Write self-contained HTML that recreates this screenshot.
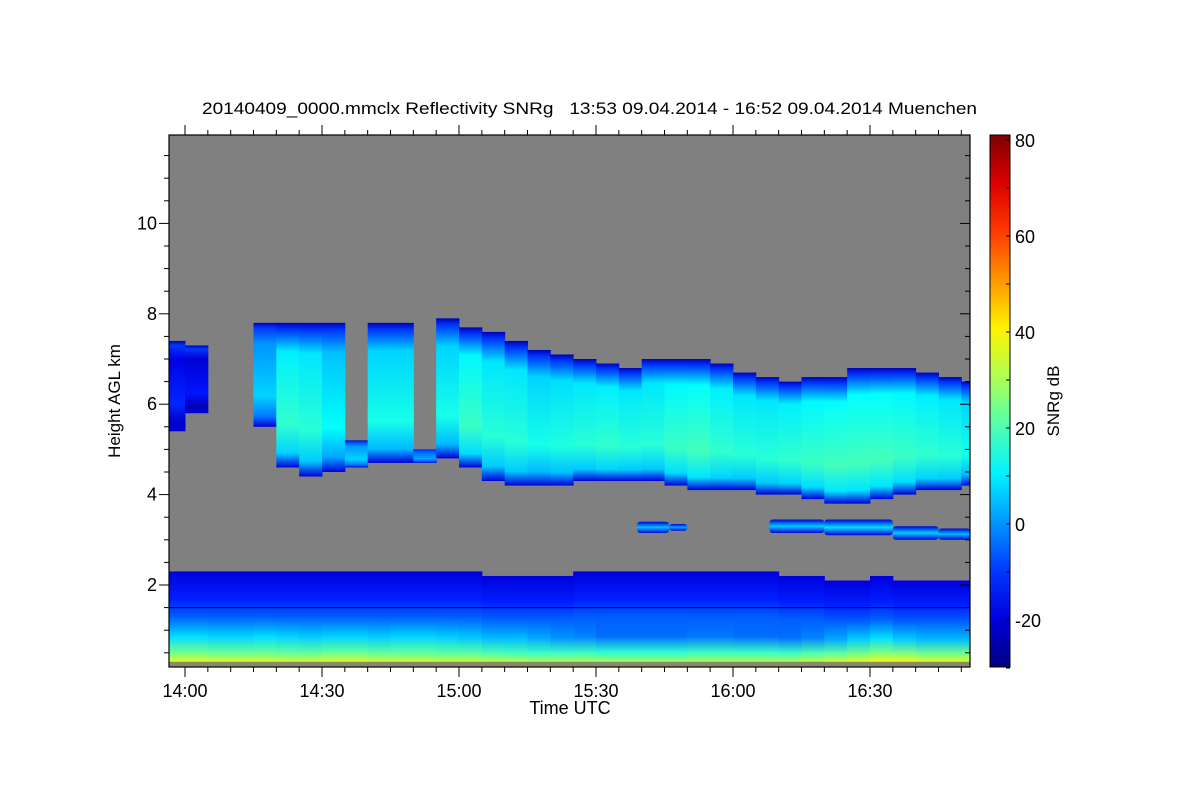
<!DOCTYPE html>
<html><head><meta charset="utf-8"><style>
body{margin:0;background:#fff;}
svg text{font-family:"Liberation Sans",sans-serif;fill:#000;}
</style></head><body>
<svg id="chart" width="1200" height="800" xmlns="http://www.w3.org/2000/svg">
<defs id="defs"></defs>
<text x="202" y="114" font-size="17" textLength="775" lengthAdjust="spacingAndGlyphs" style="white-space:pre">20140409_0000.mmclx Reflectivity SNRg   13:53 09.04.2014 - 16:52 09.04.2014 Muenchen</text>
<clipPath id="pc"><rect x="169" y="135" width="801" height="532"/></clipPath>
<rect x="169" y="135" width="801" height="532" fill="#808080"/>
<g id="marks" clip-path="url(#pc)"></g>
<rect x="169" y="135" width="801" height="532" fill="none" stroke="#000" stroke-width="1.2"/>
<g id="axes"></g>
<text transform="translate(120,401) rotate(-90)" font-size="17" text-anchor="middle">Height AGL km</text>
<text x="570" y="714" font-size="18" text-anchor="middle">Time UTC</text>
<text transform="translate(1059,401) rotate(-90)" font-size="17" text-anchor="middle">SNRg dB</text>
</svg>
<script>
const colStart = ['13:55','14:00','14:05','14:10','14:15','14:20','14:25','14:30','14:35','14:40','14:45','14:50','14:55','15:00','15:05','15:10','15:15','15:20','15:25','15:30','15:35','15:40','15:45','15:50','15:55','16:00','16:05','16:10','16:15','16:20','16:25','16:30','16:35','16:40','16:45','16:50'];
const cloudTop  = [7.4,7.3,0,0,7.8,7.8,7.8,7.8,5.2,7.8,7.8,5.0,7.9,7.7,7.6,7.4,7.2,7.1,7.0,6.9,6.8,7.0,7.0,7.0,6.9,6.7,6.6,6.5,6.6,6.6,6.8,6.8,6.8,6.7,6.6,6.5];
const cloudBase = [5.4,5.8,0,0,5.5,4.6,4.4,4.5,4.6,4.7,4.7,4.7,4.8,4.6,4.3,4.2,4.2,4.2,4.3,4.3,4.3,4.3,4.2,4.1,4.1,4.1,4.0,4.0,3.9,3.8,3.8,3.9,4.0,4.1,4.1,4.2];
const cloudPeak = [-14,-16,0,0,5,15,14,10,5,12,12,0,12,16,14,14,12,13,14,15,14,14,16,17,15,14,14,15,16,17,17,17,16,15,14,12];
const lowTop    = [2.3,2.3,2.3,2.3,2.3,2.3,2.3,2.3,2.3,2.3,2.3,2.3,2.3,2.3,2.2,2.2,2.2,2.2,2.3,2.3,2.3,2.3,2.3,2.3,2.3,2.3,2.3,2.2,2.2,2.1,2.1,2.2,2.1,2.1,2.1,2.1];
const lowMid    = [6,6,5,5,6,5,4,5,5,4,5,5,4,3,2,2,0,-2,-4,-6,-6,-6,-6,-5,-5,-6,-6,-6,-4,0,4,6,4,2,2,2];
const groundSNR = [36,36,35,35,35,34,34,35,35,34,34,34,33,33,32,31,30,30,30,29,29,29,29,30,30,30,30,30,32,34,36,38,38,36,36,36];
const thinLayers = [['15:39',3.15,3.4,5],['15:46',3.2,3.35,2],['16:08',3.15,3.45,6],['16:20',3.1,3.45,8],['16:35',3.0,3.3,6],['16:45',3.0,3.25,4]];
const thinEnd = ['15:46','15:50','16:20','16:35','16:45','16:52'];
const yTicks = [2,4,6,8,10];
const xTickLabels = ['14:00','14:30','15:00','15:30','16:00','16:30'];
const cbTicks = [-20,0,20,40,60,80];

const NS='http://www.w3.org/2000/svg';
const X0=169,X1=970,Y0=135,Y1=667;
function tmin(s){const p=s.split(':');return +p[0]*60+ +p[1];}
function xs(m){return 185+(m-840)*137/30;}
function ys(h){return 585-(h-2)*45.2;}
const VMIN=-30,VMAX=81;
function jet(v){let t=(v-VMIN)/(VMAX-VMIN);t=Math.max(0,Math.min(1,t));
 const c=a=>Math.round(255*Math.max(0,Math.min(1,1.5-Math.abs(4*t-a))));
 return `rgb(${c(3)},${c(2)},${c(1)})`;}
const defs=document.getElementById('defs'),marks=document.getElementById('marks'),axes=document.getElementById('axes');
function el(tag,attrs,parent){const e=document.createElementNS(NS,tag);for(const k in attrs)e.setAttribute(k,attrs[k]);parent.appendChild(e);return e;}
function grad(id,stops){const g=el('linearGradient',{id:id,x1:0,y1:0,x2:0,y2:1},defs);stops.forEach(s=>el('stop',{offset:s[0],'stop-color':jet(s[1])},g));}

colStart.forEach((s,i)=>{
 const x=xs(tmin(s)),w=xs(tmin(s)+5)-x+0.5;
 grad('lg'+i,[[0,-20],[0.3,-13],[0.5,-6],[0.72,lowMid[i]+2],[0.9,groundSNR[i]-12],[1,groundSNR[i]]]);
 const lt=ys(lowTop[i]),lb=ys(0.3);
 const r=el('rect',{x:x,y:lt,width:w,height:lb-lt,fill:'url(#lg'+i+')'},marks);
 
 
 if(cloudTop[i]>0){
  const p=cloudPeak[i];
  grad('cg'+i,[[0,-24],[0.05,-10],[0.2,p-5],[0.7,p+2],[0.9,p-8],[1,-20]]);
  const ct=ys(cloudTop[i]),cb=ys(cloudBase[i]);
  const c=el('rect',{x:x,y:ct,width:w,height:cb-ct,fill:'url(#cg'+i+')'},marks);
  
  
 }
});
thinLayers.forEach((t,i)=>{
 const x=xs(tmin(t[0])),x2=xs(tmin(thinEnd[i]));
 grad('tg'+i,[[0,-20],[0.5,t[3]],[1,-20]]);
 const r=el('rect',{x:x,y:ys(t[2]),width:x2-x,height:ys(t[1])-ys(t[2]),fill:'url(#tg'+i+')',rx:3},marks);
 
 
});
const gs=el('rect',{x:X0,y:ys(0.3),width:X1-X0,height:Y1-ys(0.3),fill:'#8a8a6a'},marks);


const hl=el('line',{x1:X0,x2:X1,y1:ys(1.5),y2:ys(1.5),stroke:'#000','stroke-width':1},marks);



for(let h=0.5;h<=11.9;h+=0.5){const y=ys(h);const maj=Math.abs(h-Math.round(h/2)*2)<0.01;
 el('line',{x1:X0-(maj?10:5),x2:X0,y1:y,y2:y,stroke:'#000'},axes);
 el('line',{x1:X1,x2:X1-(maj?10:5),y1:y,y2:y,stroke:'#000'},axes);}
yTicks.forEach(v=>{const t=el('text',{x:157,y:ys(v)+6,'font-size':18,'text-anchor':'end'},axes);t.textContent=v;
 
 });
for(let m=840-0;m<=1012;m+=5){const x=xs(m);if(x<X0||x>X1)continue;const maj=m%30==0;
 el('line',{x1:x,x2:x,y1:Y1,y2:Y1+(maj?10:5),stroke:'#000'},axes);
 el('line',{x1:x,x2:x,y1:Y0,y2:Y0-(maj?10:5),stroke:'#000'},axes);}
xTickLabels.forEach(s=>{const t=el('text',{x:xs(tmin(s)),y:697,'font-size':18,'text-anchor':'middle'},axes);t.textContent=s;
 
 });
const cby=v=>620-(v+20)*4.8;
grad('cbg',Array.from({length:12},(_,k)=>[k/11,VMAX-(VMAX-VMIN)*k/11]));
const cb=el('rect',{x:990,y:135,width:20,height:532,fill:'url(#cbg)',stroke:'#000'},axes);


for(let v=-30;v<=80;v+=10){el('line',{x1:1010,x2:1006,y1:cby(v),y2:cby(v),stroke:'#000'},axes);}
cbTicks.forEach(v=>{const t=el('text',{x:1015,y:cby(v)+7,'font-size':18},axes);t.textContent=v;
 
 });
</script>
</body></html>
